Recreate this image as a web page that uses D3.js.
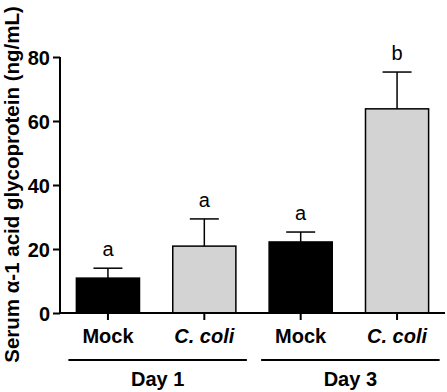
<!DOCTYPE html>
<html>
<head>
<meta charset="utf-8">
<script src="https://cdn.jsdelivr.net/npm/d3@7"></script>
<style>
  body { margin: 0; background: #fff; }
  text { font-family: Arial, "Liberation Sans", sans-serif; }
</style>
</head>
<body>
<div id="chart"></div>
<script>
const svgWidth = 447
const svgHeight = 392

// data
const groups = ["Mock1", "Coli1", "Mock3", "Coli3"]
const labels = ["Mock", "C. coli", "Mock", "C. coli"]
const means = [10.9, 20.9, 22.2, 63.8]
const errors = [3.1, 8.5, 3.1, 11.5]
const letters = ["a", "a", "a", "b"]
const days = ["Day 1", "Day 3"]
const yTicks = [0, 20, 40, 60, 80]

const fills = ["#000000", "#d3d3d3", "#000000", "#d3d3d3"]

let svg = d3.select("#chart")
  .append("svg")
  .attr("width", svgWidth)
  .attr("height", svgHeight)

let x = d3.scaleBand()
  .domain(groups)
  .range([60, 445])
  .paddingInner(0.345)
  .paddingOuter(0.17)

let y = d3.scaleLinear()
  .domain([0, 80])
  .range([313, 57])

// y axis
let yAxis = svg.append("g")
  .attr("transform", "translate(60,0)")
  .call(d3.axisLeft(y).tickValues(yTicks).tickSize(7).tickPadding(3))
yAxis.select(".domain").attr("stroke-width", 2).attr("d", `M0,${y(80)}V${y(0)}`)
yAxis.selectAll(".tick line").attr("stroke-width", 2)
yAxis.selectAll(".tick text")
  .attr("font-size", "20px")
  .attr("font-weight", "bold")
  .attr("fill", "#000")
  .attr("dy", "0.36em")

// bars
svg.selectAll("rect.bar")
  .data(groups)
  .enter()
  .append("rect")
  .classed("bar", true)
  .attr("x", d => x(d))
  .attr("width", x.bandwidth())
  .attr("y", (d, i) => y(means[i]))
  .attr("height", (d, i) => y(0) - y(means[i]))
  .attr("fill", (d, i) => fills[i])
  .attr("stroke", "#000")
  .attr("stroke-width", 1.5)

// error bars
let capW = 29
groups.forEach((g, i) => {
  let cx = x(g) + x.bandwidth() / 2
  let top = y(means[i] + errors[i])
  svg.append("line")
    .attr("x1", cx).attr("x2", cx)
    .attr("y1", y(means[i])).attr("y2", top)
    .attr("stroke", "#000").attr("stroke-width", 1.5)
  svg.append("line")
    .attr("x1", cx - capW / 2).attr("x2", cx + capW / 2)
    .attr("y1", top).attr("y2", top)
    .attr("stroke", "#000").attr("stroke-width", 1.5)
  svg.append("text")
    .attr("x", cx)
    .attr("y", top - 12)
    .attr("text-anchor", "middle")
    .attr("font-size", "20px")
    .text(letters[i])
})

// x axis
let xAxis = svg.append("g")
  .attr("transform", `translate(0,${y(0)})`)
  .call(d3.axisBottom(x).tickSize(7).tickFormat((d, i) => labels[i]).tickPadding(9))
xAxis.select(".domain").attr("stroke-width", 2).attr("d", "M60,0H445")
xAxis.selectAll(".tick line").attr("stroke-width", 2)
xAxis.selectAll(".tick text")
  .attr("font-size", "20px")
  .attr("font-weight", "bold")
  .attr("fill", "#000")
  .attr("font-style", (d, i) => i % 2 ? "italic" : "normal")

// day grouping lines
days.forEach((day, k) => {
  let x0 = x(groups[k * 2]) - 8
  let x1 = x(groups[k * 2 + 1]) + x.bandwidth() + 11
  svg.append("line")
    .attr("x1", x0).attr("x2", x1)
    .attr("y1", 360).attr("y2", 360)
    .attr("stroke", "#000").attr("stroke-width", 2)
  svg.append("text")
    .attr("x", (x0 + x1) / 2)
    .attr("y", 386)
    .attr("text-anchor", "middle")
    .attr("font-size", "20px")
    .attr("font-weight", "bold")
    .text(day)
})

// y title
svg.append("text")
  .attr("transform", `translate(19,${(2 + 367) / 2}) rotate(-90)`)
  .attr("text-anchor", "middle")
  .attr("font-size", "20.5px")
  .attr("font-weight", "bold")
  .text("Serum α-1 acid glycoprotein (ng/mL)")
</script>
</body>
</html>
